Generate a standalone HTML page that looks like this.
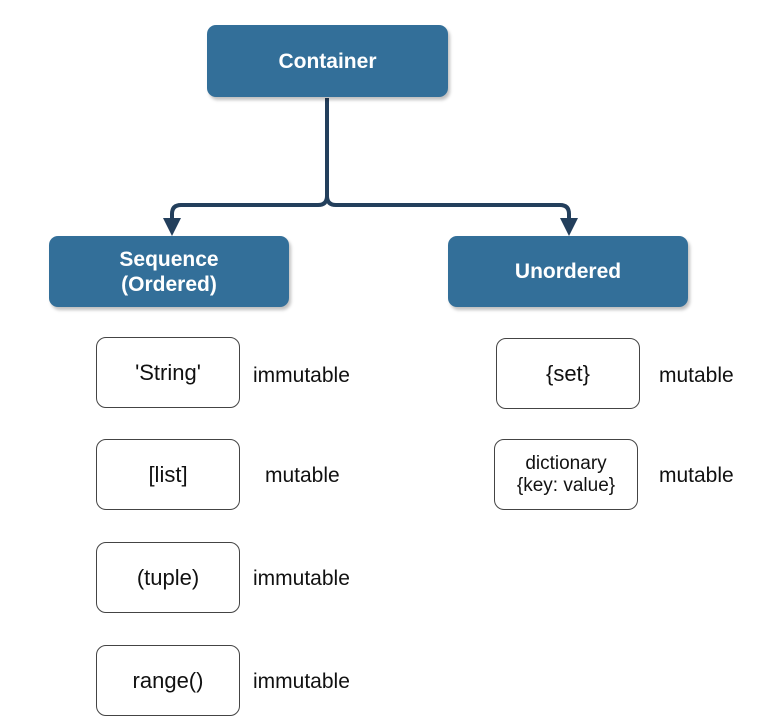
<!DOCTYPE html>
<html><head><style>
body{margin:0;width:779px;height:722px;background:#fff;position:relative;overflow:hidden;font-family:"Liberation Sans",sans-serif}
.b{position:absolute;background:#336f99;color:#fff;font-weight:bold;font-size:21px;border-radius:9px;display:flex;align-items:center;justify-content:center;text-align:center;line-height:25px;box-shadow:2px 3px 3px rgba(0,0,0,0.25)}
.w{position:absolute;width:144px;height:71px;border:1.5px solid #444;border-radius:10px;box-sizing:border-box;display:flex;align-items:center;justify-content:center;text-align:center;font-size:22px;color:#111;line-height:24px}
.l{position:absolute;font-size:21px;color:#111;line-height:24px}
</style></head><body>
<svg width="779" height="722" style="position:absolute;left:0;top:0">
<g fill="none" stroke="#233f5c" stroke-width="4">
<path d="M327 98 V196 Q327 205 318 205 H181 Q172 205 172 214 V220"/>
<path d="M327 196 Q327 205 336 205 H560 Q569 205 569 214 V220"/>
</g>
<polygon points="163,218 181,218 172,236" fill="#233f5c"/>
<polygon points="560,218 578,218 569,236" fill="#233f5c"/>
</svg>
<div class="b" style="left:207px;top:25px;width:241px;height:72px">Container</div>
<div class="b" style="left:49px;top:236px;width:240px;height:71px">Sequence<br>(Ordered)</div>
<div class="b" style="left:448px;top:236px;width:240px;height:71px">Unordered</div>
<div class="w" style="left:96px;top:337px">'String'</div>
<div class="w" style="left:96px;top:439px">[list]</div>
<div class="w" style="left:96px;top:542px">(tuple)</div>
<div class="w" style="left:96px;top:645px">range()</div>
<div class="w" style="left:496px;top:338px">{set}</div>
<div class="w" style="left:494px;top:439px;font-size:19px;line-height:22px">dictionary<br>{key: value}</div>
<div class="l" style="left:253px;top:364px">immutable</div>
<div class="l" style="left:265px;top:464px">mutable</div>
<div class="l" style="left:253px;top:567px">immutable</div>
<div class="l" style="left:253px;top:670px">immutable</div>
<div class="l" style="left:659px;top:364px">mutable</div>
<div class="l" style="left:659px;top:464px">mutable</div>
</body></html>
